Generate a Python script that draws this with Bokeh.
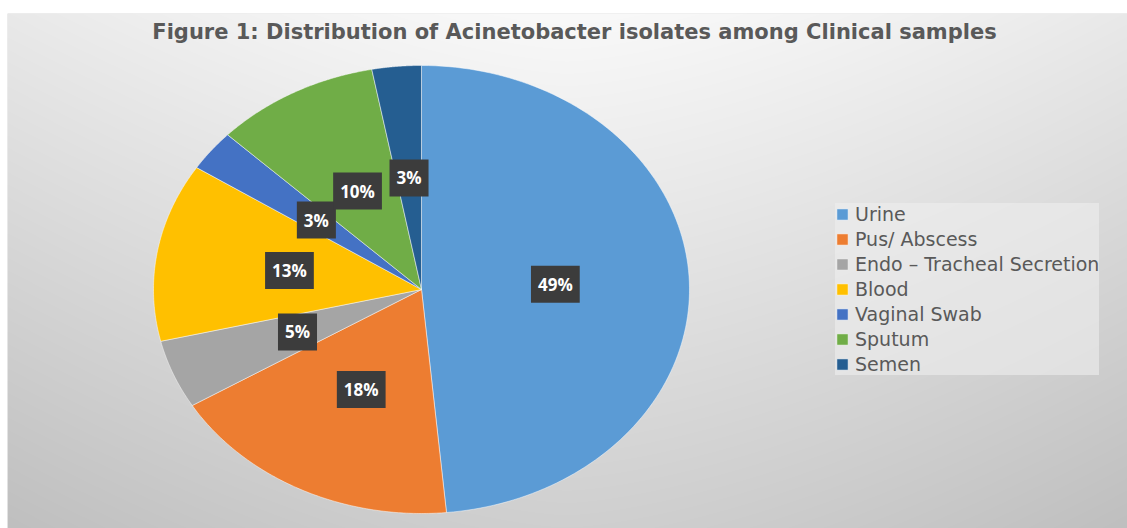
import numpy as np
from bokeh.plotting import figure
from bokeh.models import ColumnDataSource, Range1d, Legend, LegendItem
from bokeh.core.properties import value
from bokeh.embed import file_html
from bokeh.resources import INLINE

title_text = "Figure 1: Distribution of Acinetobacter isolates among Clinical samples"
categories = ["Urine", "Pus/ Abscess", "Endo \u2013 Tracheal Secretion", "Blood",
              "Vaginal Swab", "Sputum", "Semen"]
percents = [49, 18, 5, 13, 3, 10, 3]
colors = ["#5b9bd5", "#ed7d31", "#a5a5a5", "#ffc000", "#4472c4", "#70ad47", "#255e91"]

W, H = 1127, 528
LEFT, TOP = 7, 13
FW, FH = W - LEFT, H - TOP

p = figure(width=W, height=H, output_backend="svg", toolbar_location=None,
           x_range=Range1d(LEFT, W), y_range=Range1d(0, FH),
           min_border_left=LEFT, min_border_top=TOP, min_border_right=0, min_border_bottom=0)
p.axis.visible = False
p.grid.visible = False
p.outline_line_color = None
p.border_fill_color = "white"
p.background_fill_color = "#dddddd"

# background gradient (decoration)
rows = np.arange(FH)[:, None]
cols = np.arange(FW)[None, :]
dx = np.abs(cols + LEFT - 566) / 560.0
dy = (FH - rows) / FH
v = 249 - 16 * dx ** 1.5 - 42 * dy
v = np.clip(v, 0, 255).astype(np.uint32)
img = (255 << 24) | (v << 16) | (v << 8) | v
p.image_rgba(image=[img.astype(np.uint32)], x=LEFT, y=0, dw=FW, dh=FH)

# pie geometry (elliptical, as in the stretched reference)
cx, cy, rx, ry = 421, H - 289, 268, 224
frac = np.array(percents, dtype=float) / sum(percents)
ends = np.cumsum(frac) * 2 * np.pi
starts = np.concatenate([[0.0], ends[:-1]])

xs, ys, lx, ly = [], [], [], []
for s, e in zip(starts, ends):
    t = np.linspace(s, e, 120)
    xs.append(np.concatenate([[cx], cx + rx * np.sin(t)]))
    ys.append(np.concatenate([[cy], cy + ry * np.cos(t)]))
    m = (s + e) / 2
    lx.append(cx + 0.5 * rx * np.sin(m))
    ly.append(cy + 0.5 * ry * np.cos(m))

src = ColumnDataSource(dict(xs=xs, ys=ys, color=colors, name=categories))
pies = p.patches(xs="xs", ys="ys", fill_color="color", line_color="white",
                 line_width=0.8, line_alpha=0.6, source=src)

lab = ColumnDataSource(dict(x=lx, y=ly, text=[f"{v}%" for v in percents]))
p.text(x="x", y="y", text="text", source=lab, text_align="center", text_baseline="middle",
       text_color="white", text_font=value("Open Sans"), text_font_style="bold",
       text_font_size="17px", background_fill_color="#3c3c3c", padding=7)

# title
p.text(x=[574], y=[H - 31], text=[title_text], text_align="center", text_baseline="middle",
       text_color="#595959", text_font=value("DejaVu Sans"), text_font_style="bold",
       text_font_size="21px")

items = [LegendItem(label=c, renderers=[pies], index=i) for i, c in enumerate(categories)]
legend = Legend(items=items, location=(828, 153), orientation="vertical")
legend.glyph_width = 14
legend.glyph_height = 14
legend.label_height = 21
legend.spacing = 3
legend.padding = 6
legend.margin = 0
legend.label_standoff = 6
legend.label_text_font = "DejaVu Sans"
legend.label_text_font_size = "19px"
legend.label_text_color = "#595959"
legend.background_fill_color = "#eeeeee"
legend.background_fill_alpha = 0.6
legend.border_line_color = None
p.add_layout(legend, "center")

open("out.html", "w").write(file_html(p, INLINE))
